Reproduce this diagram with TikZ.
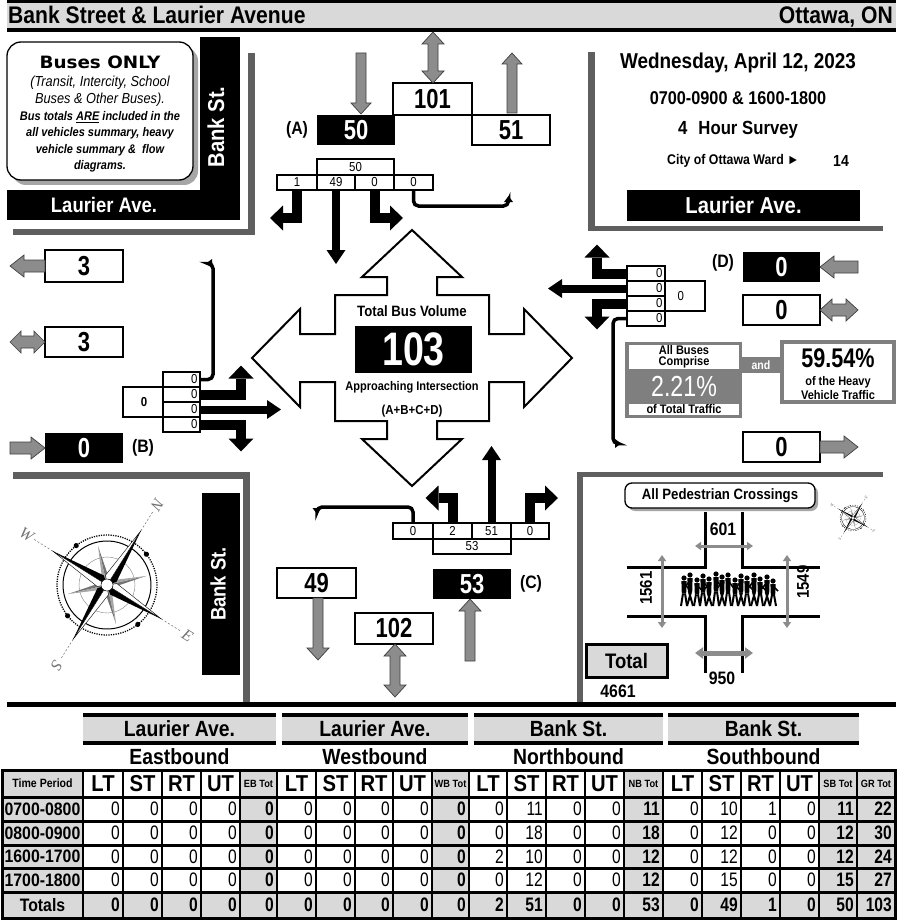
\documentclass[tikz,border=0pt]{standalone}
\usepackage{fontspec}
\setmainfont{Liberation Sans}[FakeStretch=0.88]
\newfontfamily\narrowfont{Liberation Sans}[FakeStretch=0.8]
\newfontfamily\heavyfont{DejaVu Sans}[FakeStretch=1.08]
\newfontfamily\seriffont{Liberation Serif}
\usetikzlibrary{arrows.meta,calc}
\newcommand\fsz[1]{\fontsize{#1}{#1}\selectfont}
\newcommand\mybox[7][]{\node[#1, minimum width={#4-#2}, minimum height={#5-#3}] (#6) at ({(#2+#4)/2},{(#3+#5)/2}) {#7};}
\definecolor{bandgray}{HTML}{D9D9D9}
\definecolor{lgray}{HTML}{5F5F5F}
\definecolor{agray}{HTML}{8C8C8C}
\definecolor{pgray}{HTML}{7F7F7F}
\definecolor{shadowgray}{HTML}{A6A6A6}
\tikzset{
  wbox/.style={draw, line width=1.5, fill=white, inner sep=0pt, outer sep=0pt, font=\narrowfont\bfseries\fsz{27.5}},
  kbox/.style={fill=black, text=white, inner sep=0pt, outer sep=0pt, font=\narrowfont\bfseries\fsz{27.5}},
  cell/.style={draw, line width=1.1, fill=white, inner sep=0pt, outer sep=0pt, font=\fsz{13}},
  garrow/.style={draw=black!75, line width=0.7, fill=agray},
  turnarr/.style={line width=10, line join=miter, -{Triangle[width=25pt,length=13pt,line width=0pt]}},
  strarr/.style={line width=8, -{Triangle[width=19pt,length=14pt,line width=0pt]}},
  uturn/.style={line width=3.5, rounded corners=5, -{Triangle[width=9pt,length=6pt,line width=0pt]}},
  lab/.style={font=\bfseries\fsz{18}, inner sep=0pt},
  pedarr/.style={line width=3, draw=agray, {Triangle[width=8pt,length=6pt]}-{Triangle[width=8pt,length=6pt]}},
  pics/sarrow/.style args={#1/#2/#3/#4}{code={
    \filldraw[garrow] (0,-#2) -- ({#1-#4},-#2) -- ({#1-#4},-#3) -- (#1,0) -- ({#1-#4},#3) -- ({#1-#4},#2) -- (0,#2) -- cycle;}},
  pics/darrow/.style args={#1/#2/#3/#4}{code={
    \filldraw[garrow] (0,0) -- (#4,-#3) -- (#4,-#2) -- ({#1-#4},-#2) -- ({#1-#4},-#3) -- (#1,0) -- ({#1-#4},#3) -- ({#1-#4},#2) -- (#4,#2) -- (#4,#3) -- cycle;}},
  pics/rose/.style={code={
    \draw[line width={1.3*#1}, dash pattern=on 1.2pt off 1.2pt] (0,0) circle (50);
    \draw[line width={1*#1}] (0,0) circle (44);
    \draw[line width={0.4*#1}, gray] (0,0) circle (28);
    \foreach \a in {0,90,180,270} {\draw[line width={0.5*#1}, black!60, dash pattern=on 2pt off 2pt] (\a:64) -- (\a:86);}
    \foreach \a in {45,135,225,315} {
      \fill[black!55] (0,0) -- (\a+30:7) -- (\a:40) -- cycle;
      \fill[black!35] (0,0) -- (\a-30:7) -- (\a:40) -- cycle;}
    \foreach \a in {0,90,180,270} {
      \fill[black] (0,0) -- (\a+40:10) -- (\a:64) -- cycle;
      \draw[fill=white, line width={0.4*#1}] (0,0) -- (\a-40:10) -- (\a:64) -- cycle;}
    \draw[fill=white, line width={0.6*#1}] (0,0) circle (6);
    \foreach \a in {20,110,200,290} {\fill (\a:50) circle (2.6);}
    \node[font=\seriffont\itshape\fsz{16}, text=black!55, rotate=-90] at (270:95) {N};
    \node[font=\seriffont\itshape\fsz{16}, text=black!55] at (0:95) {E};
    \node[font=\seriffont\itshape\fsz{16}, text=black!55, rotate=-90] at (90:95) {S};
    \node[font=\seriffont\itshape\fsz{16}, text=black!55] at (180:95) {W};
  }},
}
\begin{document}
\begin{tikzpicture}[x=1pt,y=-1pt]
\useasboundingbox (0,0) rectangle (896,920);
\fill[white] (0,0) rectangle (896,920);

% ---------- title bar
\fill[black] (7,0) rectangle (896,3);
\fill[bandgray] (7,3) rectangle (896,28);
\fill[black] (7,28) rectangle (896,32);
\node[anchor=base west, font=\bfseries\fsz{24}, inner sep=0] (title) at (8,24) {Bank Street \& Laurier Avenue};
\node[anchor=base east, font=\bfseries\fsz{24}, inner sep=0] (city) at (893,24) {Ottawa, ON};

% ---------- top-left quadrant
\fill[lgray] (13,229) rectangle (255,235);
\fill[lgray] (248,53) rectangle (255,235);
\fill[black] (200,37) rectangle (240,220);
\fill[black] (7,190) rectangle (240,220);
\node[rotate=90, text=white, font=\bfseries\fsz{23}] (bankTL) at (216,127) {Bank St.};
\node[text=white, font=\bfseries\fsz{21}] (laurTL) at (104,205) {Laurier Ave.};
\mybox[fill=shadowgray, rounded corners=14, inner sep=0]{12}{47}{198}{185}{bshadow}{}
\mybox[draw, line width=1.3, fill=white, rounded corners=14, inner sep=0]{7}{42}{193}{180}{busbox}{}
\node[font=\heavyfont\bfseries\fsz{17}] (buses) at (100,62) {Buses ONLY};
\node[font=\itshape\fsz{14.5}] (bl1) at (100,83) {(Transit, Intercity, School};
\node[font=\itshape\fsz{14.5}] (bl2) at (100,100) {Buses \& Other Buses).};
\node[font=\bfseries\itshape\fsz{12.5}] (bl3) at (100,117) {Bus totals \underline{ARE} included in the};
\node[font=\bfseries\itshape\fsz{12.5}] (bl4) at (100,133) {all vehicles summary, heavy};
\node[font=\bfseries\itshape\fsz{12.5}] (bl5) at (100,150) {vehicle summary \&\ \ flow};
\node[font=\bfseries\itshape\fsz{12.5}] (bl6) at (100,166) {diagrams.};

% ---------- top-right quadrant
\fill[lgray] (588,52) rectangle (595,231);
\fill[lgray] (588,226) rectangle (883,231);
\node[font=\bfseries\fsz{21.5}] (date) at (738,63) {Wednesday, April 12, 2023};
\node[font=\bfseries\fsz{18.5}] (hours) at (738,98) {0700-0900 \& 1600-1800};
\node[font=\bfseries\fsz{19}, anchor=west, inner sep=0] (survey) at (678,130) {4\hspace{11pt}Hour Survey};
\node[font=\bfseries\fsz{14}, anchor=west, inner sep=0] (ward) at (667,161) {City of Ottawa Ward ►};
\node[font=\bfseries\fsz{16}] (wardn) at (841,161) {14};
\mybox[kbox, font=\bfseries\fsz{23}]{627}{190}{860}{221}{laurTR}{Laurier Ave.}

% ---------- bottom-left quadrant
\fill[lgray] (13,472) rectangle (250,479);
\fill[lgray] (243,472) rectangle (250,707);
\fill[black] (202,493) rectangle (240,675);
\node[rotate=90, text=white, font=\bfseries\fsz{21}] (bankBL) at (218,584) {Bank St.};
\pic[rotate=-32, transform shape] at (107,585) {rose=1};

% ---------- bottom-right quadrant
\fill[lgray] (577,472) rectangle (883,477);
\fill[lgray] (577,472) rectangle (583,707);
\mybox[fill=shadowgray, rounded corners=7, inner sep=0]{628}{486}{818}{511}{pshadow}{}
\mybox[draw, line width=1.3, fill=white, rounded corners=7, inner sep=0, font=\bfseries\fsz{15}]{625}{483}{815}{508}{ped}{All Pedestrian Crossings}
\pic[rotate=-32, scale=0.26, transform shape] at (853,518) {rose=0.35};
\draw[line width=3] (705,512) |- (627,567);
\draw[line width=3] (742,512) |- (820,567);
\draw[line width=3] (627,616) -| (705,673);
\draw[line width=3] (820,616) -| (742,673);
\foreach \x/\h/\d in {684/28/1, 690/31/-1, 697/26/1, 703/30/1, 709/27/-1, 716/32/1, 722/29/-1, 728/31/1, 735/26/1, 741/30/-1, 747/28/1, 754/31/-1, 760/27/1, 767/29/-1, 773/25/1} {
  \fill (\x,{606-\h}) circle (2.6);
  \fill ({\x-2.6},{606-\h+3}) -- ({\x+2.6},{606-\h+3}) -- ({\x+2.2},{606-0.45*\h}) -- ({\x-2.2},{606-0.45*\h}) -- cycle;
  \draw[line width=2] ({\x-1},{606-0.45*\h}) -- ({\x-3*\d},606);
  \draw[line width=2] ({\x+1},{606-0.45*\h}) -- ({\x+3*\d},606);
  \draw[line width=1.5] (\x,{606-\h+5}) -- ({\x+5*\d},{606-0.6*\h});
}
\coordinate (pn1) at (695,546); \coordinate (pn2) at (753,546);
\coordinate (ps1) at (695,653); \coordinate (ps2) at (753,653);
\coordinate (pw1) at (662,555); \coordinate (pw2) at (662,628);
\coordinate (pe1) at (787,555); \coordinate (pe2) at (787,628);
\draw[pedarr] (pn1) -- (pn2);
\draw[pedarr, line width=5, {Triangle[width=11pt,length=8pt]}-{Triangle[width=11pt,length=8pt]}] (ps1) -- (ps2);
\draw[pedarr] (pw1) -- (pw2);
\draw[pedarr] (pe1) -- (pe2);
\node[font=\bfseries\fsz{18}] (p601) at (723,529) {601};
\node[font=\bfseries\fsz{18}] (p950) at (722,678) {950};
\node[font=\bfseries\fsz{17}, rotate=90] (p1561) at (646,588) {1561};
\node[font=\bfseries\fsz{17}, rotate=90] (p1549) at (803,582) {1549};
\mybox[draw, line width=3, fill=bandgray, inner sep=0, font=\bfseries\fsz{21}]{586}{644}{667}{677}{ptot}{Total}
\node[font=\bfseries\fsz{18}] (p4661) at (618,691) {4661};

% ---------- bottom black rule
\fill[black] (7,702) rectangle (896,707);

% ---------- central arrow
\draw[line width=2, fill=white, shift={(412,358)}] (0,-128) -- (50,-81) -- (25,-81) -- (25,-63) -- (77,-63) -- (77,-24) -- (112,-24) -- (112,-49) -- (160,0) -- (112,49) -- (112,24) -- (77,24) -- (77,63) -- (25,63) -- (25,81) -- (50,81) -- (0,128) -- (-50,81) -- (-25,81) -- (-25,63) -- (-77,63) -- (-77,24) -- (-112,24) -- (-112,49) -- (-160,0) -- (-112,-49) -- (-112,-24) -- (-77,-24) -- (-77,-63) -- (-25,-63) -- (-25,-81) -- (-50,-81) -- cycle;
\node[font=\bfseries\fsz{15}] (tbv) at (412,311) {Total Bus Volume};
\mybox[kbox, font=\narrowfont\bfseries\fsz{47}]{355}{326}{472}{373}{tot}{103}
\node[font=\bfseries\fsz{12.5}] (appr) at (412,387) {Approaching Intersection};
\node[font=\bfseries\fsz{13}] (abcd) at (412,411) {(A+B+C+D)};

% ---------- approach A (north)
\mybox[kbox]{317}{115}{395}{145}{A}{50}
\mybox[wbox]{393}{83}{472}{115}{Abi}{101}
\mybox[wbox]{472}{115}{550}{145}{Aout}{51}
\node[lab] (Alab) at (297,130) {(A)};
\pic[rotate=-90] at (361,53) {sarrow=61/5/10/11};
\pic[rotate=90] at (512,113) {sarrow=60/5/10/11};
\pic[rotate=-90] at (433,32) {darrow=51/5/11/12};
\mybox[cell]{317}{159}{394}{175}{aT}{50}
\mybox[cell]{277}{175}{317}{190}{a1}{1}
\mybox[cell]{317}{175}{355}{190}{a2}{49}
\mybox[cell]{355}{175}{394}{190}{a3}{0}
\mybox[cell]{394}{175}{433}{190}{a4}{0}
\coordinate (a1t) at (270,218);
\coordinate (a3t) at (403,218);
\draw[turnarr] (a1.south) |- (a1t);
\draw[strarr] (a2.south) -- ++(0,74);
\draw[turnarr] (a3.south) |- (a3t);
\draw[uturn] (a4.south) -- ++(0,16) -| ++(95,-10);

% ---------- approach B (west)
\mybox[wbox]{45}{250}{123}{282}{Bout}{3}
\pic[rotate=180] at (45,266) {sarrow=35/6/11/14};
\mybox[wbox]{45}{327}{123}{357}{Bbi}{3}
\pic at (10,342) {darrow=35/6/11/11};
\mybox[kbox]{45}{433}{123}{463}{B}{0}
\pic at (10,448) {sarrow=35/6/11/14};
\node[lab] (Blab) at (143,448) {(B)};
\mybox[cell, font=\bfseries\fsz{13}]{123}{387}{165}{417}{bT}{0}
\mybox[cell, text width=32, align=right]{163}{372}{200}{387}{b1}{0}
\mybox[cell, text width=32, align=right]{163}{387}{200}{402}{b2}{0}
\mybox[cell, text width=32, align=right]{163}{402}{200}{417}{b3}{0}
\mybox[cell, text width=32, align=right]{163}{417}{200}{432}{b4}{0}
\draw[uturn] (b1.east) -- ++(13,0) -- ++(0,-116) -- ++(-7,0);
\draw[turnarr] (b2.east) -| ++(41,-29);
\draw[strarr] (b3.east) -- ++(81,0);
\draw[turnarr] (b4.east) -| ++(41,27);

% ---------- approach D (east)
\mybox[kbox]{743}{252}{820}{282}{D}{0}
\pic[rotate=180] at (858,267) {sarrow=38/6/11/14};
\mybox[wbox]{743}{295}{820}{325}{Dbi}{0}
\pic at (820,310) {darrow=38/6/11/12};
\mybox[wbox]{743}{432}{820}{462}{Dout}{0}
\pic at (820,447) {sarrow=38/6/11/14};
\node[lab] (Dlab) at (723,263) {(D)};
\mybox[cell, text width=36, align=right]{627}{281}{705}{311}{dT}{0}
\mybox[cell, text width=33, align=right]{627}{266}{665}{281}{d1}{0}
\mybox[cell, text width=33, align=right]{627}{281}{665}{296}{d2}{0}
\mybox[cell, text width=33, align=right]{627}{296}{665}{311}{d3}{0}
\mybox[cell, text width=33, align=right]{627}{311}{665}{326}{d4}{0}
\draw[turnarr] (d1.west) -| ++(-30,-29);
\draw[strarr] (d2.west) -- ++(-79,0);
\draw[turnarr] (d3.west) -| ++(-30,26);
\draw[uturn] (d4.west) -- ++(-14,0) -- ++(0,125) -- ++(8,0);

% ---------- approach C (south)
\mybox[wbox]{277}{568}{356}{598}{Cout}{49}
\pic[rotate=-90] at (318,598) {sarrow=62/5/11/12};
\mybox[wbox]{355}{613}{433}{644}{Cbi}{102}
\pic[rotate=-90] at (395,644) {darrow=53/5/11/12};
\mybox[kbox]{433}{569}{511}{599}{C}{53}
\pic[rotate=90] at (470,661) {sarrow=62/5/11/12};
\node[lab] (Clab) at (531,584) {(C)};
\mybox[cell]{433}{539}{511}{554}{cT}{53}
\mybox[cell]{393}{523}{433}{539}{c1}{0}
\mybox[cell]{433}{523}{472}{539}{c2}{2}
\mybox[cell]{472}{523}{511}{539}{c3}{51}
\mybox[cell]{511}{523}{549}{539}{c4}{0}
\draw[uturn] (c1.north) -- ++(0,-16) -| ++(-96,7);
\draw[turnarr] (c2.north) |- ++(-27,-25);
\draw[strarr] (c3.north) -- ++(0,-77);
\draw[turnarr] (c4.north) |- ++(28,-25);

% ---------- percentage panels
\fill[pgray] (625,342) rectangle (742,418);
\mybox[fill=white, inner sep=0, align=center, font=\bfseries\fontsize{12.5}{11}\selectfont]{629}{345}{739}{369}{allbus}{All Buses\\Comprise}
\node[text=white, inner sep=0, text height=21, text depth=0, font=\narrowfont\fsz{29}] (pct1) at (684,386) {2.21\%};
\mybox[fill=white, inner sep=0, text height=9, text depth=2, font=\bfseries\fsz{12.5}]{629}{404}{739}{415}{oftot}{of Total Traffic}
\mybox[fill=pgray, text=white, inner sep=0, font=\bfseries\fsz{12}]{742}{357}{780}{373}{and}{and}
\fill[pgray] (780,340) rectangle (896,404);
\fill[white] (784,344) rectangle (892,400);
\node[font=\narrowfont\bfseries\fsz{27}] (pct2) at (838,358) {59.54\%};
\node[font=\bfseries\fsz{12.5}] (hv1) at (838,382) {of the Heavy};
\node[font=\bfseries\fsz{12.5}] (hv2) at (838,395) {Vehicle Traffic};

% ---------- summary table
\def\cx{{2,83,123,162,201,240,277,316,355,393,432,469,507,546,585,624,663,702,741,780,819,857,895}}
\def\ry{{770,797,821,845,868,892,918}}
\foreach \a/\b/\t/\d [count=\n] in {83/276/Laurier Ave./Eastbound, 282/468/Laurier Ave./Westbound, 474/663/Bank St./Northbound, 668/859/Bank St./Southbound} {
  \fill[black] (\a,713) rectangle (\b,717);
  \fill[bandgray] (\a,717) rectangle (\b,741);
  \fill[black] (\a,741) rectangle (\b,745);
  \node[font=\bfseries\fsz{22}] (gh-\n) at ({(\a+\b)/2},729) {\t};
  \node[font=\bfseries\fsz{22}] (gd-\n) at ({(\a+\b)/2},757) {\d};
}
\fill[bandgray] (2,770) rectangle (83,918);
\foreach \a/\b in {240/277,432/469,624/663,819/857,857/895} {\fill[bandgray] (\a,770) rectangle (\b,918);}
\fill[bandgray] (2,892) rectangle (895,918);
\foreach \i in {0,...,22} {\pgfmathsetmacro\xx{\cx[\i]} \draw[line width=1.6] (\xx,770) -- (\xx,918);}
\foreach \j in {0,...,6} {\pgfmathsetmacro\yy{\ry[\j]} \draw[line width=3] (2,\yy) -- (895,\yy);}
\draw[line width=3] (2,770) rectangle (895,918);
\node[font=\bfseries\fsz{12}] (thTP) at (42.5,783.5) {Time Period};
\foreach \g/\tl in {0/EB Tot,1/WB Tot,2/NB Tot,3/SB Tot} {
  \foreach \k/\lb in {0/LT,1/ST,2/RT,3/UT} {
    \pgfmathtruncatemacro\ci{1+5*\g+\k}
    \pgfmathtruncatemacro\cj{\ci+1}
    \pgfmathsetmacro\xl{\cx[\ci]}
    \pgfmathsetmacro\xm{\cx[\cj]}
    \pgfmathsetmacro\xa{(\xl+\xm)/2}
    \node[font=\bfseries\fsz{23}] (th-\ci) at (\xa,784) {\lb};
  }
  \pgfmathtruncatemacro\ci{5+5*\g}
  \pgfmathtruncatemacro\cj{\ci+1}
  \pgfmathsetmacro\xl{\cx[\ci]}
  \pgfmathsetmacro\xm{\cx[\cj]}
  \pgfmathsetmacro\xa{(\xl+\xm)/2}
  \node[font=\bfseries\fsz{10.5}] (th-\ci) at (\xa,783.5) {\tl};
}
\node[font=\bfseries\fsz{10.5}] (th-21) at (876,783.5) {GR Tot};
\foreach \r/\tp/\vals in {
  1/0700-0800/{0,0,0,0,0,0,0,0,0,0,0,11,0,0,11,0,10,1,0,11,22},
  2/0800-0900/{0,0,0,0,0,0,0,0,0,0,0,18,0,0,18,0,12,0,0,12,30},
  3/1600-1700/{0,0,0,0,0,0,0,0,0,0,2,10,0,0,12,0,12,0,0,12,24},
  4/1700-1800/{0,0,0,0,0,0,0,0,0,0,0,12,0,0,12,0,15,0,0,15,27},
  5/Totals/{0,0,0,0,0,0,0,0,0,0,2,51,0,0,53,0,49,1,0,50,103}} {
  \pgfmathtruncatemacro\rn{\r+1}
  \pgfmathsetmacro\ya{\ry[\r]}
  \pgfmathsetmacro\yb{\ry[\rn]}
  \pgfmathsetmacro\yc{(\ya+\yb)/2}
  \node[font=\bfseries\fsz{18}] (tp-\r) at (42.5,\yc) {\tp};
  \foreach \v [count=\i] in \vals {
    \pgfmathtruncatemacro\cj{\i+1}
    \pgfmathsetmacro\xm{\cx[\cj]}
    \pgfmathsetmacro\xr{\xm-3}
    \pgfmathtruncatemacro\isb{(mod(\i,5)==0)||(\i==21)||(\r==5)}
    \ifnum\isb=1
      \node[anchor=east, inner sep=0, font=\narrowfont\bfseries\fsz{19.5}] (v-\r-\i) at (\xr,\yc) {\v};
    \else
      \node[anchor=east, inner sep=0, font=\narrowfont\fsz{19.5}] (v-\r-\i) at (\xr,\yc) {\v};
    \fi
  }
}
\end{tikzpicture}
\end{document}
